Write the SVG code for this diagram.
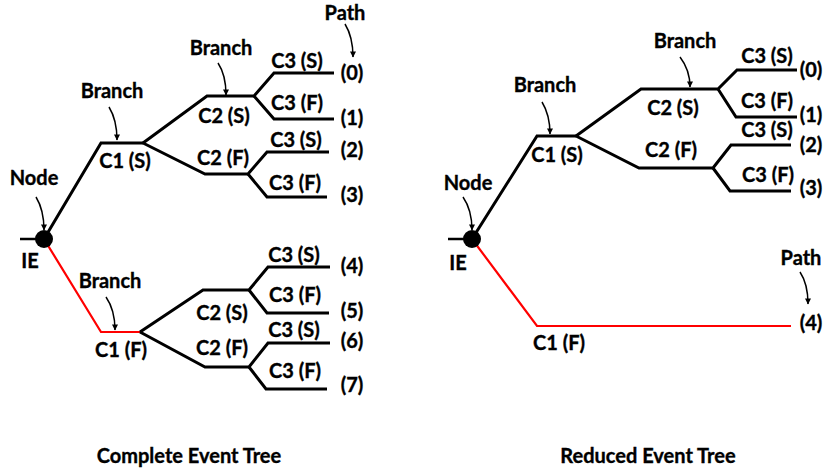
<svg xmlns="http://www.w3.org/2000/svg" width="824" height="476" viewBox="0 0 824 476">
<style>
text{font-family:Lato,"Liberation Sans",sans-serif;font-weight:bold;font-size:20px;fill:#000;stroke:#000;stroke-width:0.35;text-anchor:middle}
.b{fill:none;stroke:#000;stroke-width:3;stroke-linejoin:miter}
.r{fill:none;stroke:#ff0000;stroke-width:2.2}
.a{fill:none;stroke:#000;stroke-width:1.5}
.t{stroke:#000;stroke-width:2.5}
</style>
<defs>
<marker id="ah" viewBox="0 0 10 10" refX="9" refY="5" markerWidth="7" markerHeight="6" orient="auto" markerUnits="userSpaceOnUse">
<path d="M0,0 L10,5 L0,10 z" fill="#000"/>
</marker>
</defs>
<rect width="824" height="476" fill="#fff"/>
<g id="connectors">
<line class="t" x1="20" y1="239" x2="38" y2="239"/>
<polyline class="b" points="44,239 101,143 143,143"/>
<polyline class="b" points="143,143 207,96 254,96 274,73 334,73"/>
<polyline class="b" points="254,96 274,119 334,119"/>
<polyline class="b" points="143,143 205,174 248,174 267,152 329,152"/>
<polyline class="b" points="248,174 267,197 327,197"/>
<polyline class="r" points="44,239 101,332 141,332"/>
<polyline class="b" points="140,332 203,290 249,290 268,267 330,267"/>
<polyline class="b" points="249,290 267,313 329,313"/>
<polyline class="b" points="140,332 205,367 249,367 268,343 330,343"/>
<polyline class="b" points="249,367 266,389 327,389"/>
<line class="t" x1="448" y1="239" x2="466" y2="239"/>
<polyline class="b" points="472,239 537,136 576,136"/>
<polyline class="b" points="576,136 641,89 718,89 737,70 797,70"/>
<polyline class="b" points="718,89 736,117 797,117"/>
<polyline class="b" points="576,136 639,168 713,168 731,145 791,145"/>
<polyline class="b" points="713,168 730,191 791,191"/>
<polyline class="r" points="472,239 537,326 791,326"/>
<path class="a" marker-end="url(#ah)" d="M345,24 Q353,37 353,57"/>
<path class="a" marker-end="url(#ah)" d="M218,63 Q226,75 226,95"/>
<path class="a" marker-end="url(#ah)" d="M109,107 Q117,120 117,140"/>
<path class="a" marker-end="url(#ah)" d="M36,197 Q44,210 44,230"/>
<path class="a" marker-end="url(#ah)" d="M106,297 Q115,310 115,330"/>
<path class="a" marker-end="url(#ah)" d="M680,57 Q690,70 690,87"/>
<path class="a" marker-end="url(#ah)" d="M542,102 Q550,115 550,134"/>
<path class="a" marker-end="url(#ah)" d="M463,197 Q472,210 472,230"/>
<path class="a" marker-end="url(#ah)" d="M800,272 Q808,284 808,304"/>
</g>
<g id="node-ie-left"><circle cx="44" cy="239" r="9" fill="#000"/></g>
<g id="node-ie-right"><circle cx="472" cy="239" r="9" fill="#000"/></g>
<g id="labels-left">
<text x="345" y="20">Path</text>
<text x="352" y="80">(0)</text>
<text x="352" y="125">(1)</text>
<text x="352" y="157">(2)</text>
<text x="352" y="202">(3)</text>
<text x="297" y="68">C3 (S)</text>
<text x="297" y="110">C3 (F)</text>
<text x="296" y="147">C3 (S)</text>
<text x="295" y="190">C3 (F)</text>
<text x="224" y="123">C2 (S)</text>
<text x="223" y="165">C2 (F)</text>
<text x="125" y="168">C1 (S)</text>
<text x="221" y="55">Branch</text>
<text x="112" y="98">Branch</text>
<text x="34" y="185">Node</text>
<text x="30" y="268">IE</text>
<text x="110" y="288">Branch</text>
<text x="121" y="357">C1 (F)</text>
<text x="294" y="262">C3 (S)</text>
<text x="352" y="273">(4)</text>
<text x="295" y="302">C3 (F)</text>
<text x="352" y="318">(5)</text>
<text x="294" y="337">C3 (S)</text>
<text x="352" y="348">(6)</text>
<text x="222" y="320">C2 (S)</text>
<text x="222" y="355">C2 (F)</text>
<text x="295" y="378">C3 (F)</text>
<text x="352" y="392">(7)</text>
<text x="189" y="463">Complete Event Tree</text>
</g>
<g id="labels-right">
<text x="685" y="48">Branch</text>
<text x="767" y="63">C3 (S)</text>
<text x="811" y="77">(0)</text>
<text x="767" y="108">C3 (F)</text>
<text x="811" y="122">(1)</text>
<text x="767" y="137">C3 (S)</text>
<text x="811" y="152">(2)</text>
<text x="768" y="182">C3 (F)</text>
<text x="811" y="195">(3)</text>
<text x="673" y="115">C2 (S)</text>
<text x="671" y="157">C2 (F)</text>
<text x="557" y="162">C1 (S)</text>
<text x="545" y="92">Branch</text>
<text x="468" y="190">Node</text>
<text x="458" y="270">IE</text>
<text x="559" y="350">C1 (F)</text>
<text x="801" y="265">Path</text>
<text x="811" y="330">(4)</text>
<text x="648" y="463">Reduced Event Tree</text>
</g>
</svg>
